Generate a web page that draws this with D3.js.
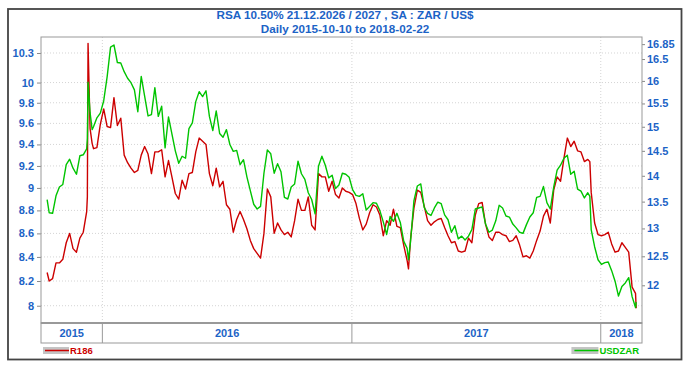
<!DOCTYPE html>
<html>
<head>
<meta charset="utf-8">
<script src="https://cdn.jsdelivr.net/npm/d3@7"></script>
<style>
  body { margin: 0; background: #fff; }
  svg text { font-family: "Liberation Sans", Arial, sans-serif; font-weight: bold; }
</style>
</head>
<body>
<div id="chart"></div>
<script>
// sampled roughly every 5 days, extra points around the sharp moves
const dates = [
  "2015-10-12","2015-10-15","2015-10-20","2015-10-25","2015-10-30","2015-11-04","2015-11-09","2015-11-14",
  "2015-11-19","2015-11-24","2015-11-29","2015-12-04","2015-12-09","2015-12-10","2015-12-11","2015-12-14",
  "2015-12-17","2015-12-19","2015-12-24","2015-12-29","2016-01-03","2016-01-08","2016-01-13","2016-01-18",
  "2016-01-23","2016-01-28","2016-02-02","2016-02-07","2016-02-12","2016-02-17","2016-02-22","2016-02-27",
  "2016-03-03","2016-03-08","2016-03-13","2016-03-18","2016-03-23","2016-03-28","2016-04-02","2016-04-07",
  "2016-04-12","2016-04-17","2016-04-22","2016-04-27","2016-05-02","2016-05-07","2016-05-12","2016-05-17",
  "2016-05-22","2016-05-27","2016-06-01","2016-06-06","2016-06-11","2016-06-16","2016-06-21","2016-06-26",
  "2016-07-01","2016-07-06","2016-07-11","2016-07-16","2016-07-21","2016-07-26","2016-07-31","2016-08-05",
  "2016-08-10","2016-08-15","2016-08-20","2016-08-25","2016-08-30","2016-09-04","2016-09-09","2016-09-14",
  "2016-09-19","2016-09-24","2016-09-29","2016-10-04","2016-10-09","2016-10-14","2016-10-19","2016-10-24",
  "2016-10-29","2016-11-03","2016-11-08","2016-11-13","2016-11-18","2016-11-23","2016-11-28","2016-12-03",
  "2016-12-08","2016-12-13","2016-12-18","2016-12-23","2016-12-28","2017-01-02","2017-01-07","2017-01-12",
  "2017-01-17","2017-01-22","2017-01-27","2017-02-01","2017-02-06","2017-02-11","2017-02-16","2017-02-21",
  "2017-02-26","2017-03-03","2017-03-08","2017-03-13","2017-03-18","2017-03-23","2017-03-25","2017-03-28",
  "2017-04-02","2017-04-07","2017-04-12","2017-04-17","2017-04-22","2017-04-27","2017-05-02","2017-05-07",
  "2017-05-12","2017-05-17","2017-05-22","2017-05-27","2017-06-01","2017-06-06","2017-06-11","2017-06-16",
  "2017-06-21","2017-06-26","2017-07-01","2017-07-06","2017-07-11","2017-07-16","2017-07-21","2017-07-26",
  "2017-07-31","2017-08-05","2017-08-10","2017-08-15","2017-08-20","2017-08-25","2017-08-30","2017-09-04",
  "2017-09-09","2017-09-14","2017-09-19","2017-09-24","2017-09-29","2017-10-04","2017-10-09","2017-10-14",
  "2017-10-19","2017-10-24","2017-10-29","2017-11-03","2017-11-08","2017-11-13","2017-11-18","2017-11-23",
  "2017-11-28","2017-12-03","2017-12-08","2017-12-13","2017-12-16","2017-12-18","2017-12-23","2017-12-28",
  "2018-01-02","2018-01-07","2018-01-12","2018-01-17","2018-01-22","2018-01-27","2018-02-01","2018-02-06",
  "2018-02-11","2018-02-16","2018-02-21","2018-02-22"
];

const r186 = [
  8.27, 8.20, 8.22, 8.35, 8.35, 8.38, 8.52, 8.60,
  8.47, 8.44, 8.56, 8.61, 8.79, 8.92, 10.40, 9.55,
  9.41, 9.36, 9.37, 9.59, 9.74, 9.57, 9.56, 9.85,
  9.58, 9.65, 9.30, 9.23, 9.18, 9.14, 9.16, 9.30,
  9.38, 9.31, 9.13, 9.33, 9.33, 9.35, 9.10, 9.25,
  9.10, 8.95, 8.90, 9.07, 8.99, 9.13, 9.14, 9.33,
  9.46, 9.43, 9.40, 9.13, 9.02, 9.18, 9.01, 9.06,
  8.85, 8.81, 8.61, 8.72, 8.79, 8.72, 8.64, 8.54,
  8.47, 8.43, 8.39, 8.60, 8.99, 8.92, 8.60, 8.69,
  8.63, 8.59, 8.61, 8.57, 8.71, 8.90, 8.80, 8.80,
  8.92, 8.67, 8.63, 9.13, 9.10, 9.10, 8.97, 9.06,
  8.94, 8.91, 9.00, 8.97, 8.96, 8.94, 8.86, 8.73,
  8.63, 8.68, 8.78, 8.85, 8.83, 8.76, 8.58, 8.71,
  8.67, 8.81, 8.66, 8.65, 8.50, 8.37, 8.30, 8.55,
  8.82, 8.98, 8.96, 8.84, 8.71, 8.67, 8.70, 8.72,
  8.73, 8.65, 8.58, 8.52, 8.53, 8.45, 8.44, 8.45,
  8.56, 8.52, 8.76, 8.86, 8.87, 8.68, 8.57, 8.54,
  8.61, 8.61, 8.59, 8.58, 8.53, 8.54, 8.58, 8.50,
  8.40, 8.41, 8.39, 8.45, 8.54, 8.62, 8.75, 8.81,
  8.69, 8.98, 9.10, 9.06, 9.27, 9.46, 9.38, 9.43,
  9.34, 9.33, 9.24, 9.26, 9.24, 8.96, 8.69, 8.59,
  8.58, 8.59, 8.61, 8.51, 8.44, 8.45, 8.52, 8.48,
  8.44, 8.15, 8.10, 7.98
];

const usdzar = [
  13.54, 13.29, 13.28, 13.61, 13.78, 13.83, 14.22, 14.33,
  14.15, 14.03, 14.40, 14.42, 14.54, 14.75, 15.97, 15.30,
  14.94, 15.00, 15.19, 15.29, 15.56, 16.09, 16.78, 16.83,
  16.42, 16.41, 16.21, 16.06, 15.96, 15.80, 15.32, 16.10,
  15.66, 15.23, 15.26, 15.85, 15.22, 15.44, 14.56, 15.21,
  14.85, 14.50, 14.25, 14.39, 14.35, 14.96, 15.08, 15.54,
  15.76, 15.65, 15.78, 15.22, 14.92, 15.34, 14.86, 14.78,
  14.94, 14.63, 14.49, 14.51, 14.22, 14.32, 13.98, 13.71,
  13.45, 13.36, 13.41, 14.05, 14.52, 14.44, 14.05, 14.24,
  14.08, 13.58, 13.55, 13.78, 13.84, 14.29, 14.04, 13.93,
  13.67, 13.54, 13.27, 14.19, 14.39, 14.21, 13.96, 14.01,
  13.75, 13.82, 14.05, 14.03, 13.97, 13.73, 13.62, 13.60,
  13.65, 13.34, 13.41, 13.48, 13.47, 13.33, 13.12, 12.89,
  13.22, 13.13, 13.28, 13.11, 12.77, 12.64, 12.44, 12.76,
  13.52, 13.80, 13.84, 13.39, 13.28, 13.24, 13.38, 13.49,
  13.46, 13.25, 13.16, 12.93, 13.05, 12.81, 12.86, 12.79,
  12.86, 12.98, 13.36, 13.38, 13.40, 13.08, 12.93, 12.97,
  13.14, 13.43, 13.38, 13.23, 13.21, 13.08, 13.01, 12.93,
  12.91, 13.07, 13.21, 13.29, 13.58, 13.60, 13.79, 13.48,
  13.36, 13.78, 14.11, 14.21, 14.35, 14.41, 14.03, 14.09,
  13.74, 13.70, 13.57, 13.67, 13.60, 12.98, 12.67, 12.44,
  12.36, 12.39, 12.40, 12.25, 12.07, 11.82, 11.98, 12.04,
  12.13, 11.81, 11.63, 11.72
];

const leftTicks = [8, 8.2, 8.4, 8.6, 8.8, 9, 9.2, 9.4, 9.6, 9.8, 10, 10.3];
const rightTicks = [12, 12.5, 13, 13.5, 14, 14.5, 15, 15.5, 16, 16.5, 16.85];
const yearStarts = ["2016-01-01", "2017-01-01", "2018-01-01"];
const yearLabels = ["2015", "2016", "2017", "2018"];

const blue = "#1c63c6";
const red = "#cc0000";
const green = "#00c400";

const margin = { top: 37, right: 47, bottom: 47, left: 41 };
const width = 689 - margin.left - margin.right,
      height = 370 - margin.top - margin.bottom;

const parse = d3.utcParse("%Y-%m-%d");
const rows = dates.map((d, i) => ({ date: parse(d), r: r186[i], u: usdzar[i] }));

const svg = d3.select("#chart").append("svg")
    .attr("width", 689)
    .attr("height", 370);

// outer frame
svg.append("rect")
    .attr("x", 8).attr("y", 9)
    .attr("width", 673.5).attr("height", 350.5)
    .attr("fill", "none")
    .attr("stroke", "#444")
    .attr("stroke-width", 1.8);

svg.append("text")
    .attr("x", 345).attr("y", 19)
    .attr("text-anchor", "middle")
    .attr("font-size", 11.7)
    .attr("fill", blue)
    .text("RSA 10.50% 21.12.2026 / 2027 , SA : ZAR / US$");

svg.append("text")
    .attr("x", 345).attr("y", 33)
    .attr("text-anchor", "middle")
    .attr("font-size", 11.7)
    .attr("fill", blue)
    .text("Daily 2015-10-10 to 2018-02-22");

const g = svg.append("g")
    .attr("transform", `translate(${margin.left},${margin.top})`);

const xScale = d3.scaleUtc()
    .domain([d3.utcDay.offset(rows[0].date, -9), d3.utcHour.offset(rows[rows.length - 1].date, 204)])
    .range([0, width]);
const yLeft = d3.scaleLog().domain([7.863, 10.466]).range([height, 0]);
const yRight = d3.scaleLog().domain([11.38, 17.02]).range([height, 0]);

// grid
g.append("g").selectAll("line")
    .data(leftTicks)
    .join("line")
    .attr("x1", 0).attr("x2", width)
    .attr("y1", d => yLeft(d)).attr("y2", d => yLeft(d))
    .attr("stroke", "#d4d4d4")
    .attr("stroke-dasharray", "1,2");

g.append("g").selectAll("line")
    .data(yearStarts.map(parse))
    .join("line")
    .attr("x1", d => xScale(d)).attr("x2", d => xScale(d))
    .attr("y1", 0).attr("y2", height)
    .attr("stroke", "#d4d4d4")
    .attr("stroke-dasharray", "1,2");

// axes
const leftAxis = g.append("g")
    .call(d3.axisLeft(yLeft).tickValues(leftTicks).tickFormat(d => d).tickSize(4).tickPadding(3));
const rightAxis = g.append("g")
    .attr("transform", `translate(${width},0)`)
    .call(d3.axisRight(yRight).tickValues(rightTicks).tickFormat(d => d).tickSize(3).tickPadding(2));

[leftAxis, rightAxis].forEach(a => {
    a.select(".domain").remove();
    a.selectAll(".tick line").attr("stroke", "#888");
    a.selectAll(".tick text")
        .attr("fill", blue)
        .attr("font-size", 11)
        .attr("font-family", "'Liberation Sans', Arial, sans-serif")
        .attr("font-weight", "bold");
});

// series
g.append("clipPath").attr("id", "plot-clip")
    .append("rect").attr("width", width).attr("height", height);

const lineR = d3.line().x(d => xScale(d.date)).y(d => yLeft(d.r));
const lineU = d3.line().x(d => xScale(d.date)).y(d => yRight(d.u));

g.append("path")
    .datum(rows)
    .attr("clip-path", "url(#plot-clip)")
    .attr("fill", "none")
    .attr("stroke", red)
    .attr("stroke-width", 1.4)
    .attr("stroke-linejoin", "round")
    .attr("d", lineR);

g.append("path")
    .datum(rows)
    .attr("clip-path", "url(#plot-clip)")
    .attr("fill", "none")
    .attr("stroke", green)
    .attr("stroke-width", 1.4)
    .attr("stroke-linejoin", "round")
    .attr("d", lineU);

// plot frame
g.append("rect")
    .attr("width", width).attr("height", height)
    .attr("fill", "none")
    .attr("stroke", "#999");

// year band
const band = g.append("g").attr("transform", `translate(0,${height})`);
band.append("rect")
    .attr("width", width).attr("height", 20)
    .attr("fill", "#fff")
    .attr("stroke", "#999");
band.append("line")
    .attr("x1", 0).attr("x2", width)
    .attr("stroke", "#999").attr("stroke-width", 2);

const edges = [0].concat(yearStarts.map(d => xScale(parse(d))), [width]);
band.selectAll(".sep")
    .data(edges.slice(1, -1))
    .join("line")
    .attr("class", "sep")
    .attr("x1", d => d).attr("x2", d => d)
    .attr("y1", 0).attr("y2", 20)
    .attr("stroke", "#999");

band.selectAll(".year")
    .data(yearLabels)
    .join("text")
    .attr("class", "year")
    .attr("x", (d, i) => (edges[i] + edges[i + 1]) / 2)
    .attr("y", 14)
    .attr("text-anchor", "middle")
    .attr("font-size", 11)
    .attr("fill", blue)
    .text(d => d);

// legend
const legend = g.append("g").attr("transform", `translate(0,${height + 24})`);

legend.append("rect")
    .attr("x", 2).attr("y", 0).attr("width", 26).attr("height", 7)
    .attr("fill", "#c4c4c4");
legend.append("line")
    .attr("x1", 4).attr("x2", 28).attr("y1", 3.5).attr("y2", 3.5)
    .attr("stroke", red).attr("stroke-width", 1.5);
legend.append("text")
    .attr("x", 29).attr("y", 7)
    .attr("font-size", 9.5)
    .attr("fill", red)
    .text("R186");

const usdText = legend.append("text")
    .attr("x", width - 3).attr("y", 7)
    .attr("text-anchor", "end")
    .attr("font-size", 9.5)
    .attr("fill", green)
    .text("USDZAR");
const tw = usdText.node().getComputedTextLength();
legend.append("rect")
    .attr("x", width - 3 - tw - 28).attr("y", 0).attr("width", 27).attr("height", 7)
    .attr("fill", "#c4c4c4");
legend.append("line")
    .attr("x1", width - 3 - tw - 25).attr("x2", width - 3 - tw - 1).attr("y1", 3.5).attr("y2", 3.5)
    .attr("stroke", green).attr("stroke-width", 1.5);
</script>
</body>
</html>
